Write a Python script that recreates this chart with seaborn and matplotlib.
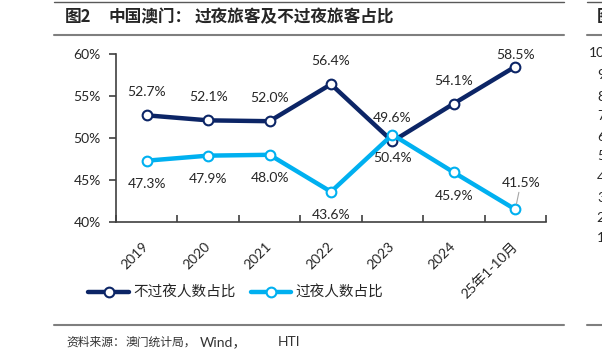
import numpy as np
import pandas as pd
import seaborn as sns
import matplotlib.pyplot as plt
from matplotlib.transforms import ScaledTranslation

# %% Data (share of visitors, %)
periods = ['2019', '2020', '2021', '2022', '2023', '2024', '25年1-10月']
same_day_share = [52.7, 52.1, 52.0, 56.4, 49.6, 54.1, 58.5]    # 不过夜
overnight_share = [47.3, 47.9, 48.0, 43.6, 50.4, 45.9, 41.5]   # 过夜
series_names = ['不过夜人数占比', '过夜人数占比']
y_ticks = [40, 45, 50, 55, 60]
# tick labels of the neighbouring chart, cut off at the right edge
next_ticks = ['100%', '90%', '80%', '70%', '60%', '50%', '40%', '30%', '20%', '10%']
next_ticks_y = [53, 75, 97, 116, 137, 156, 178, 198, 218, 238]

df = pd.DataFrame({
    'pos': list(range(len(periods))) * 2,
    'share': same_day_share + overnight_share,
    'series': [series_names[0]] * len(periods) + [series_names[1]] * len(periods),
})

# %% Style
sns.set_style('white')
plt.rcParams['font.family'] = ['Lato', 'Noto Sans CJK SC', 'DejaVu Sans']
cjk = ['Noto Sans CJK SC', 'DejaVu Sans']
dark_blue = '#0c2566'
light_blue = '#00b0f0'
txt = '#262626'

W, H = 602, 360
fx = lambda px: px / W
fy = lambda py: 1 - py / H

fig = plt.figure(figsize=(W / 100, H / 100), dpi=100)
ax = fig.add_axes([fx(116), fy(222), (546 - 116) / W, (222 - 54) / H])

sns.lineplot(
    data=df, x='pos', y='share', hue='series',
    palette={series_names[0]: dark_blue, series_names[1]: light_blue},
    marker='o', markersize=7, markerfacecolor='white', markeredgewidth=1.5,
    linewidth=3.2, legend=False, ax=ax,
)
series_lines = list(ax.lines[:2])
for line in series_lines:
    line.set_markeredgecolor(line.get_color())

# %% Data labels
for i, v in enumerate(same_day_share):
    dy = 8 if i == len(periods) - 1 else 16.5
    ax.annotate(f'{v:.1f}%', (i, v), xytext=(0, dy), textcoords='offset points',
                ha='center', va='center', fontsize=10, color=txt)
for i, v in enumerate(overnight_share):
    if i == len(periods) - 1:
        ax.annotate(f'{v:.1f}%', (i, v), xytext=(4, 19), textcoords='offset points',
                    ha='center', va='center', fontsize=10, color=txt,
                    arrowprops=dict(arrowstyle='-', color='#a6a6a6', lw=0.8,
                                    shrinkA=0, shrinkB=4))
    else:
        ax.annotate(f'{v:.1f}%', (i, v), xytext=(0, -17), textcoords='offset points',
                    ha='center', va='center', fontsize=10, color=txt)

# %% Axes
ax.set_xlim(-0.5, len(periods) - 0.5)
ax.set_ylim(40, 60)
ax.set_xticks(range(len(periods)))
ax.set_xticklabels(periods, rotation=45, ha='right', va='center',
                   rotation_mode='anchor', fontsize=10, color=txt)
# nudge the rotated labels so they end under the category centre
shift = ScaledTranslation(6 / 72, 0, fig.dpi_scale_trans)
for lab in ax.get_xticklabels():
    lab.set_transform(lab.get_transform() + shift)
ax.set_xticks(np.arange(-0.5, len(periods), 1), minor=True)
ax.tick_params(axis='x', which='major', length=0, pad=16)
ax.tick_params(axis='x', which='minor', direction='in', length=5, width=1.2,
               color='#404040', bottom=True)
ax.set_yticks(y_ticks)
ax.set_yticklabels([f'{v}%' for v in y_ticks], fontsize=10, color=txt)
ax.tick_params(axis='y', direction='out', length=5, width=1.2, color='#404040',
               pad=6, left=True)
ax.set_xlabel('')
ax.set_ylabel('')
sns.despine(ax=ax)
for side in ['left', 'bottom']:
    ax.spines[side].set_color('#404040')
    ax.spines[side].set_linewidth(1.2)

# %% Legend
fig.legend(handles=series_lines, labels=series_names, loc='center',
           bbox_to_anchor=(fx(236), fy(293)), ncol=2, frameon=False,
           handlelength=2.8, handletextpad=0.3, columnspacing=1.0,
           prop={'family': cjk, 'size': 10.5})

# %% Title, source and frame lines
fig.text(fx(65), fy(17), '图2', family=cjk, fontsize=12, weight='bold', va='center')
fig.text(fx(108), fy(17), '中国澳门：', family=cjk, fontsize=12, weight='bold', va='center')
fig.text(fx(195), fy(17), '过夜旅客及不过夜旅客占比', family=cjk, fontsize=12,
         weight='bold', va='center')

src_color = '#333333'
fig.text(fx(66), fy(342), '资料来源：', family=cjk, fontsize=8.5, va='center', color=src_color)
fig.text(fx(126), fy(342), '澳门统计局，', family=cjk, fontsize=8.5, va='center', color=src_color)
fig.text(fx(200), fy(342), 'Wind，', fontsize=10, va='center', color=src_color)
fig.text(fx(278), fy(342), 'HTI', fontsize=10, va='center', color=src_color)

for x0, x1 in [(54, 564), (587, 602)]:
    fig.add_artist(plt.Line2D([fx(x0), fx(x1)], [fy(2), fy(2)], color='#595959', lw=1.0))
    fig.add_artist(plt.Line2D([fx(x0), fx(x1)], [fy(35), fy(35)], color='#7f7f7f', lw=1.5))
    fig.add_artist(plt.Line2D([fx(x0), fx(x1)], [fy(325), fy(325)], color='#7f7f7f', lw=1.5))

# neighbouring chart, only its edge is visible
fig.text(fx(597), fy(17), '图', family=cjk, fontsize=12, weight='bold', va='center')
for lab, y in zip(next_ticks, next_ticks_y):
    fig.text(fx(624), fy(y), lab, fontsize=10, ha='right', va='center', color=txt)

fig.savefig('out.png', dpi=100)
